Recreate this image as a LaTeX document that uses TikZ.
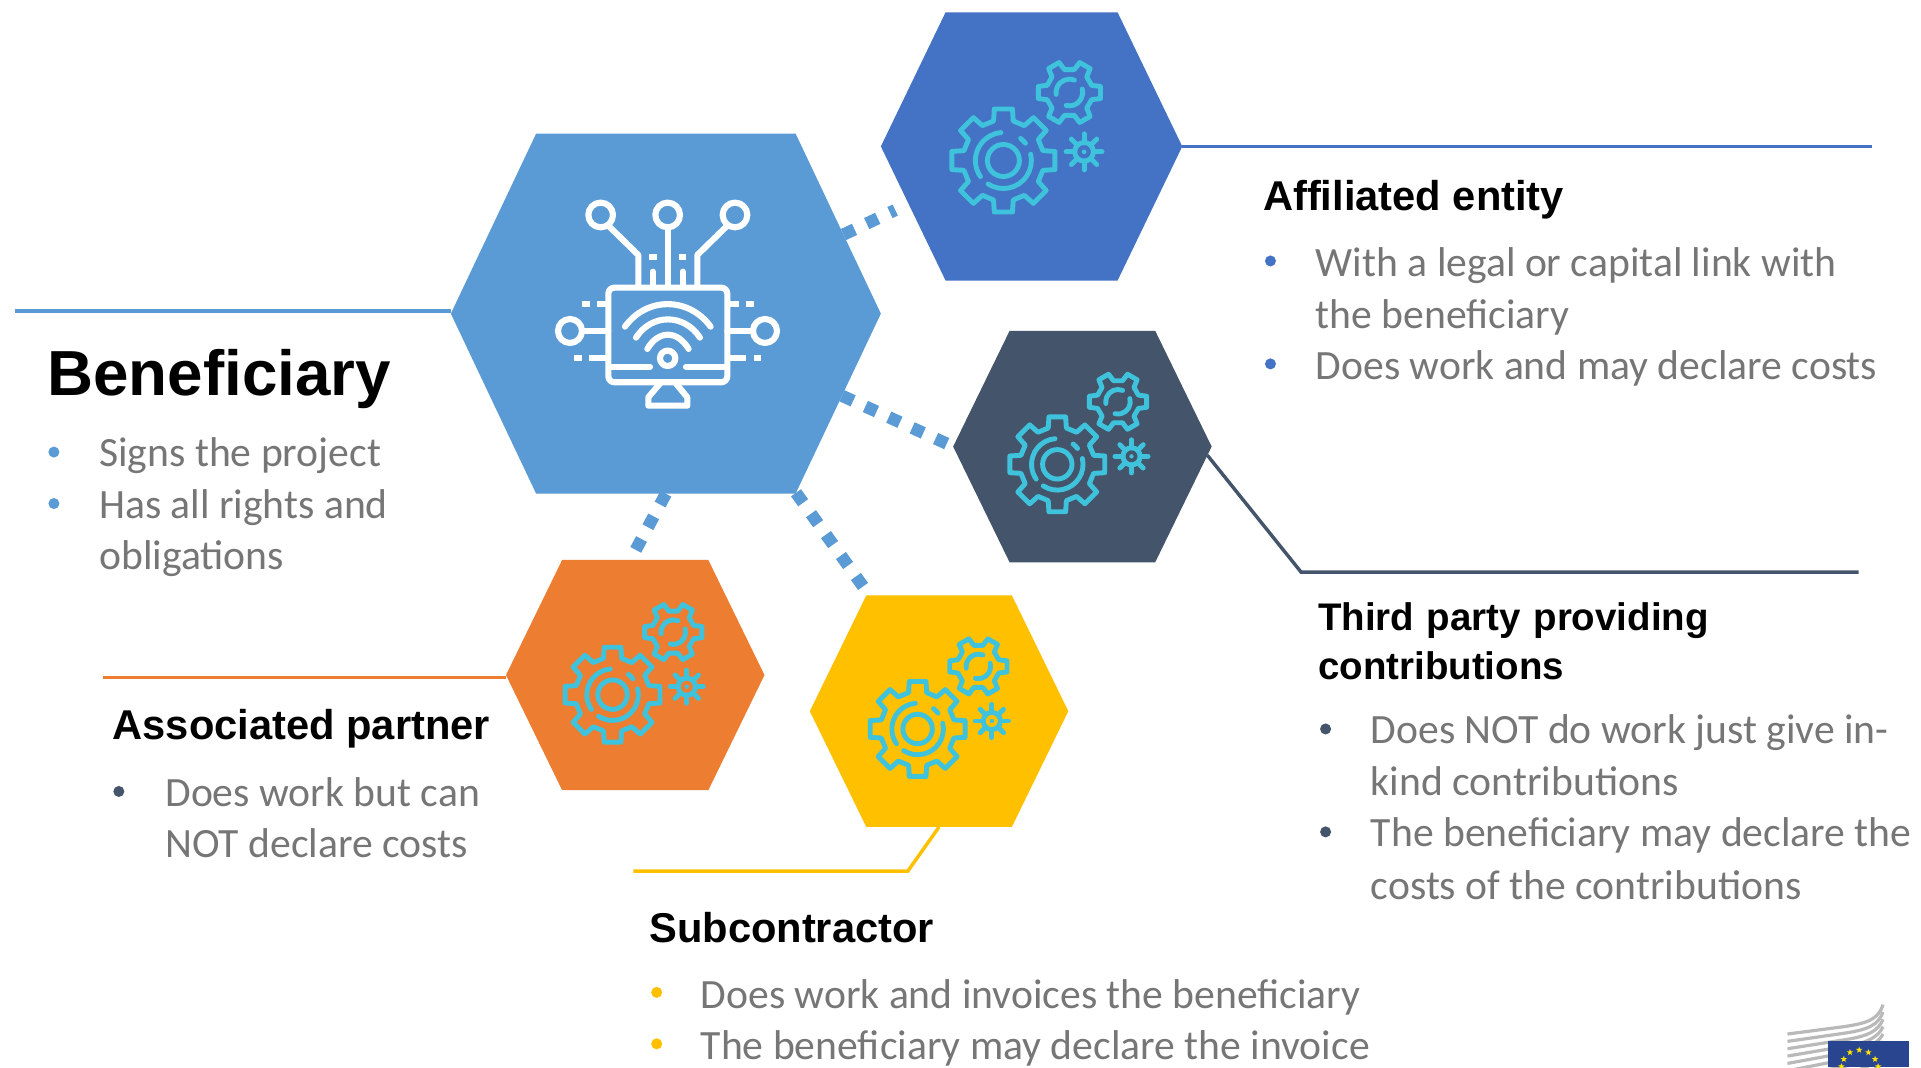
\documentclass[tikz,border=0pt]{standalone}
\usepackage{fontspec}
\setmainfont{Carlito}
\newfontfamily\headfont{Liberation Sans}
\usetikzlibrary{shapes.symbols,shapes.geometric}
\definecolor{cmain}{HTML}{5B9BD5}
\definecolor{caff}{HTML}{4472C4}
\definecolor{cthird}{HTML}{44546A}
\definecolor{corange}{HTML}{ED7D31}
\definecolor{cyellow}{HTML}{FFC000}
\definecolor{cicon}{HTML}{3FC3DC}
\definecolor{ctext}{HTML}{767676}
\definecolor{cflag}{HTML}{2A4590}
\definecolor{cstar}{HTML}{FFE600}
\tikzset{
 hexnode/.style={shape=signal,signal to=east and west,inner sep=0pt,outer sep=0pt,draw=none},
 leader/.style={line width=2.8pt},
 dotlink/.style={draw=cmain,line width=10pt,dash pattern=on 10pt off 11pt},
 body/.style={anchor=base west,inner sep=0pt,outer sep=0pt,text=ctext,font=\fontsize{34}{40}\selectfont},
 heading/.style={anchor=base west,inner sep=0pt,outer sep=0pt,text=black,font=\headfont\bfseries\fontsize{34}{40}\selectfont},
 headingsmall/.style={anchor=base west,inner sep=0pt,outer sep=0pt,text=black,font=\headfont\bfseries\fontsize{31.4}{40}\selectfont},
 bull/.style={circle,inner sep=0pt,minimum size=9pt,fill=#1},
 starmark/.style={star,star points=5,star point ratio=2.4,fill=cstar,inner sep=0pt,minimum size=5.5pt},
}
\newcommand{\gearicon}[3]{%
\begin{scope}[shift={(#1,#2)},x=#3*0.2721pt,y=#3*0.2721pt,draw=cicon,line width=4pt,line join=round,line cap=round]
 \draw (-14:122) \foreach \a in {0,45,...,315} { -- (\a-14:122) -- (\a-10:157) -- (\a+10:157) -- (\a+14:122) } -- cycle;
 \draw (0,0) circle (48);
 \draw (95:84) arc (95:215:84);
 \draw (237:84) arc (237:373:84);
 \draw (38:84) arc (38:52:84);
 \begin{scope}[shift={(198,204)}]
 \draw (-18:70) \foreach \a in {0,60,...,300} { -- (\a-18:70) -- (\a-11:95) -- (\a+11:95) -- (\a+18:70) } -- cycle;
 \draw (68:40) arc (68:188:40);
 \draw (15:40) arc (15:-104:40);
 \end{scope}
 \begin{scope}[shift={(242,26)}]
 \draw (0,0) circle (28);
 \fill[cicon] (0,0) circle (7);
 \foreach \a in {0,45,...,315} {\draw (\a:28) -- (\a:54);}
 \end{scope}
\end{scope}}
\begin{document}
\begin{tikzpicture}[x=1pt,y=-1pt]
\path[use as bounding box,fill=white] (0,0) rectangle (1568,871);

% hexagons
\node[hexnode,fill=cmain,minimum width=351pt,minimum height=294pt,signal pointer angle=129.3] (main) at (543.5,256) {};
\node[hexnode,fill=caff,minimum width=246pt,minimum height=219pt,signal pointer angle=128.5] (aff) at (842,119.5) {};
\node[hexnode,fill=cthird,minimum width=211pt,minimum height=189pt,signal pointer angle=128.0] (third) at (883.5,364.5) {};
\node[hexnode,fill=corange,minimum width=211pt,minimum height=188pt,signal pointer angle=128.0] (orange) at (518.5,551) {};
\node[hexnode,fill=cyellow,minimum width=211pt,minimum height=189pt,signal pointer angle=128.0] (yellow) at (766.5,580.5) {};

% free ends of the leader lines
\coordinate (mainend) at (12,254);
\coordinate (affend) at (1528,119.5);
\coordinate (thirdbend) at (1062,467);
\coordinate (thirdend) at (1517,467);
\coordinate (orangeend) at (84,553);
\coordinate (yellowbend) at (741,711);
\coordinate (yellowend) at (517,711);

\draw[leader,cmain] (main.west) ++(0,-2) -- (mainend);
\draw[leader,caff] (aff.east) -- (affend);
\draw[leader,cthird] (third.-4) -- (thirdbend) -- (thirdend);
\draw[leader,corange] (orange.west) ++(0,2) -- (orangeend);
\draw[leader,cyellow] (yellow.south) -- (yellowbend) -- (yellowend);

% dotted links
\path[dotlink,shorten >=12pt] (main.24.5) -- (aff.205);
\path[dotlink] (main.-25.3) -- (third.west);
\path[dotlink,shorten >=7pt] (main.south) -- ([xshift=-4pt]orange.north);
\path[dotlink] (main.-54.7) -- (yellow.121);

% central icon
\begin{scope}[shift={(408.1,122.4)},x=0.2721pt,y=-0.2721pt,draw=white,line width=5pt,line join=round,line cap=round]
 \draw (302,195) circle (37);
 \draw (503,195) circle (37);
 \draw (705,195) circle (37);
 \draw (210,543) circle (36);
 \draw (795,543) circle (36);
 \draw (326,228) -- (415,315) -- (415,405);
 \draw (503,232) -- (503,405);
 \draw (681,228) -- (592,315) -- (592,405);
 \draw (458,365) -- (458,405);
 \draw (548,365) -- (548,405);
 \draw[line cap=butt] (448,322) -- (470,322);
 \draw[line cap=butt] (537,322) -- (559,322);
 \draw[rounded corners=5pt] (325,413) rectangle (682,697);
 \draw (335,650) -- (450,650);
 \draw (558,650) -- (672,650);
 \draw (375,530) .. controls (440,440) and (566,440) .. (632,530);
 \draw (408,563) .. controls (455,490) and (552,490) .. (600,563);
 \draw (442,597) .. controls (475,540) and (532,540) .. (566,597);
 \draw (503,625) circle (23);
 \draw (246,543) -- (325,543);
 \draw (682,543) -- (759,543);
 \draw[line cap=butt] (292,462) -- (325,462);
 \draw[line cap=butt] (682,462) -- (716,462);
 \draw[line cap=butt] (246,462) -- (269,462);
 \draw[line cap=butt] (739,462) -- (762,462);
 \draw[line cap=butt] (268,625) -- (325,625);
 \draw[line cap=butt] (682,625) -- (738,625);
 \draw[line cap=butt] (223,625) -- (246,625);
 \draw[line cap=butt] (761,625) -- (784,625);
 \draw (483,697) -- (445,742) -- (445,767) -- (562,767) -- (562,742) -- (525,697);
\end{scope}

% gear icons
\gearicon{819}{131}{1}
\gearicon{863}{379}{0.92}
\gearicon{500}{567}{0.92}
\gearicon{749}{595}{0.92}

% Beneficiary
\node[anchor=base west,inner sep=0pt,text=black,font=\headfont\bfseries\fontsize{52}{60}\selectfont] (tben) at (38.5,323) {Beneficiary};
\node[bull=cmain] (bb1) at (44,369) {};
\node[bull=cmain] (bb2) at (44,411) {};
\node[body] (tb1) at (81,381) {Signs the project};
\node[body] (tb2) at (81,423) {Has all rights and};
\node[body] (tb3) at (81,465) {obligations};

% Affiliated entity
\node[heading] (taff) at (1031,172) {Affiliated entity};
\node[bull=caff] (ba1) at (1037,213) {};
\node[bull=caff] (ba2) at (1037,297) {};
\node[body] (ta1) at (1074,226) {With a legal or capital link with};
\node[body] (ta2) at (1074,268) {the beneficiary};
\node[body] (ta3) at (1074,310) {Does work and may declare costs};

% Third party
\node[headingsmall] (tth1) at (1076,515) {Third\hspace{1.5pt} party\hspace{1.5pt} providing};
\node[headingsmall] (tth2) at (1076,555) {contributions};
\node[bull=cthird] (bt1) at (1082,595) {};
\node[bull=cthird] (bt2) at (1082,679) {};
\node[body] (tt1) at (1119,607) {Does NOT do work just give in-};
\node[body] (tt2) at (1119,649) {kind contributions};
\node[body] (tt3) at (1119,691) {The beneficiary may declare the};
\node[body] (tt4) at (1119,734) {costs of the contributions};

% Associated partner
\node[heading] (tas) at (92,604) {Associated partner};
\node[bull=cthird] (bo1) at (97,646) {};
\node[body] (to1) at (135,658) {Does work but can};
\node[body] (to2) at (135,700) {NOT declare costs};

% Subcontractor
\node[heading] (tsu) at (530,769) {Subcontractor};
\node[bull=cyellow] (bs1) at (536,810) {};
\node[bull=cyellow] (bs2) at (536,852) {};
\node[body] (ts1) at (572,823) {Does work and invoices the beneficiary};
\node[body] (ts2) at (572,865) {The beneficiary may declare the invoice};

% EU logo
\begin{scope}
 \clip (1459,815) rectangle (1568,871);
 \foreach \d in {0,6,...,48}
  \draw[line width=2.6pt,gray!55] (1459,{844+\d}) -- (1505,{838+\d*0.9}) .. controls (1525,{835+\d*0.9}) and (1533,{832+\d*0.8}) .. (1537,{820+\d});
 \fill[cflag] (1492,850) rectangle (1558,871);
\end{scope}
\node[starmark] (s1) at (1510,859) {};
\node[starmark] (s2) at (1517.5,857) {};
\node[starmark] (s3) at (1525,859) {};
\node[starmark] (s4) at (1530.5,864.5) {};
\node[starmark] (s5) at (1505,864.5) {};
\node[starmark] (s6) at (1503,870.5) {};
\node[starmark] (s7) at (1533,870.5) {};
\end{tikzpicture}
\end{document}
